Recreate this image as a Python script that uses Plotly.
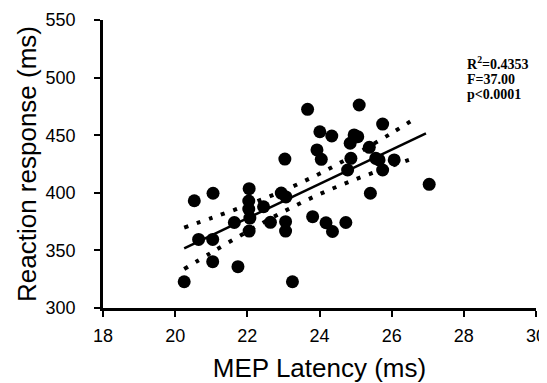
import plotly.graph_objects as go

# Scatter data
latency = [20.25, 20.53, 21.05, 20.65, 21.04, 21.04, 21.74, 21.64, 22.05, 22.04,
           22.04, 22.07, 22.05, 22.45, 22.64, 22.94, 23.07, 23.06, 23.06, 23.25,
           23.04, 23.67, 23.81, 23.93, 24.05, 24.01, 24.34, 24.18, 24.36, 24.73,
           24.78, 24.85, 24.96, 25.06, 24.87, 25.10, 25.38, 25.41, 25.56, 25.65,
           25.75, 25.75, 26.07, 27.04]
reaction = [322.8, 393.1, 399.6, 359.5, 359.5, 340.2, 335.9, 374.2, 403.6, 392.9,
            385.9, 378.1, 366.8, 387.9, 374.4, 399.8, 396.4, 374.9, 366.8, 322.8,
            429.3, 472.5, 379.3, 437.2, 429.1, 453.0, 449.3, 374.0, 366.4, 374.2,
            419.8, 443.0, 450.2, 448.7, 429.9, 476.2, 439.5, 399.6, 429.9, 428.5,
            459.7, 419.8, 428.5, 407.4]

# Regression line endpoints and 95% band
fit_x = [20.25, 26.95]
fit_y = [351.8, 451.6]
band_x = [20.25, 21, 22, 23, 24, 25, 26, 26.7]
band_upper = [369.8, 378.0, 389.4, 401.9, 416.6, 433.5, 451.8, 465.5]
band_lower = [333.8, 348.0, 366.4, 383.6, 398.8, 411.7, 423.3, 431.0]

x_ticks = [18, 20, 22, 24, 26, 28, 30]
y_ticks = [300, 350, 400, 450, 500, 550]

stats_lines = ["R<sup>2</sup>=0.4353", "F=37.00", "p<0.0001"]
stats_y = [512.5, 498.0, 485.0]

fig = go.Figure()
for band in (band_upper, band_lower):
    fig.add_trace(go.Scatter(x=band_x, y=band, mode="lines",
                             line=dict(color="black", width=4, dash="4px,9px", shape="spline"),
                             hoverinfo="skip"))
fig.add_trace(go.Scatter(x=fit_x, y=fit_y, mode="lines",
                         line=dict(color="black", width=2.5)))
fig.add_trace(go.Scatter(x=latency, y=reaction, mode="markers",
                         marker=dict(color="black", size=13, line=dict(width=0))))

for txt, yy in zip(stats_lines, stats_y):
    fig.add_annotation(x=28.03, y=yy, xref="x", yref="y",
                       xanchor="left", yanchor="middle", showarrow=False,
                       text=f"<b>{txt}</b>",
                       font=dict(family="Liberation Serif", size=14, color="black"))

axis_common = dict(showline=True, linecolor="black", linewidth=2.5,
                   ticks="outside", ticklen=6, tickwidth=2, tickcolor="black",
                   showgrid=False, zeroline=False, automargin=False,
                   tickfont=dict(family="Liberation Sans", size=18, color="black"))

fig.update_xaxes(range=[18, 30], tickvals=x_ticks, ticklabelstandoff=4,
                 title=dict(text="MEP Latency (ms)", standoff=15,
                            font=dict(family="Liberation Sans", size=26, color="black")),
                 **axis_common)
fig.update_yaxes(range=[300, 550], tickvals=y_ticks, ticklabelstandoff=15,
                 title=dict(text="Reaction response (ms)", standoff=2,
                            font=dict(family="Liberation Sans", size=26, color="black")),
                 **axis_common)

# page body adds an 8px offset, so the figure is 8px smaller than the window
fig.update_layout(width=539, height=375, showlegend=False,
                  plot_bgcolor="white", paper_bgcolor="white",
                  margin=dict(l=95, r=11, t=12, b=75))

fig.write_html("out.html")
